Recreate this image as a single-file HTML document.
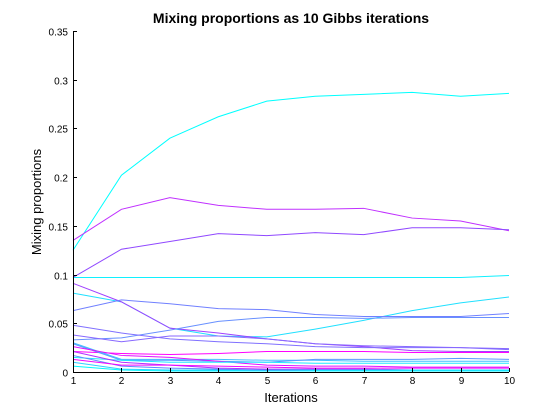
<!DOCTYPE html>
<html><head><meta charset="utf-8"><style>
body{margin:0;background:#fff;}
svg{display:block;font-family:"Liberation Sans",Arial,sans-serif;}
</style></head><body>
<svg id="chart" width="560" height="419">
<text x="291" y="23" text-anchor="middle" font-size="14" font-weight="bold">Mixing proportions as 10 Gibbs iterations</text>
<text x="291" y="402" text-anchor="middle" font-size="13">Iterations</text>
<text transform="translate(41,202) rotate(-90)" text-anchor="middle" font-size="13">Mixing proportions</text>
<g id="marks"></g>
<g id="axes"></g>
</svg>
<script>
const iterations=[1,2,3,4,5,6,7,8,9,10];
const yTicks=[0,0.05,0.1,0.15,0.2,0.25,0.3,0.35];
const yTickLabels=["0","0.05","0.1","0.15","0.2","0.25","0.3","0.35"];
const s1=[.125,.202,.240,.262,.278,.283,.285,.287,.283,.286];
const s2=[.135,.167,.179,.171,.167,.167,.168,.158,.155,.145];
const s3=[.097,.126,.134,.142,.140,.143,.141,.148,.148,.146];
const s4=[.097,.097,.097,.097,.097,.097,.097,.097,.097,.099];
const s5=[.081,.072,.045,.037,.036,.044,.053,.063,.071,.077];
const s6=[.091,.072,.045,.040,.034,.029,.026,.022,.021,.021];
const s7=[.063,.074,.070,.065,.064,.059,.057,.057,.057,.060];
const s8=[.033,.035,.043,.052,.056,.056,.055,.056,.056,.056];
const s9=[.048,.040,.034,.031,.029,.026,.025,.025,.025,.023];
const s10=[.038,.031,.037,.037,.034,.029,.027,.026,.025,.024];
const s11=[.021,.019,.018,.019,.021,.021,.021,.020,.020,.020];
const s12=[.030,.013,.013,.013,.012,.012,.011,.011,.011,.011];
const s13=[.029,.012,.012,.011,.010,.013,.013,.013,.014,.013];
const s14=[.026,.017,.015,.011,.007,.006,.006,.005,.005,.005];
const s15=[.015,.012,.010,.010,.010,.009,.009,.009,.009,.009];
const s16=[.021,.010,.007,.004,.003,.003,.003,.002,.002,.002];
const s17=[.010,.003,.002,.002,.002,.002,.002,.002,.002,.002];
const s18=[.017,.006,.004,.003,.002,.001,.001,.001,.001,.001];
const s19=[.013,.007,.007,.006,.005,.004,.004,.004,.004,.004];
const s20=[.006,.002,.001,.001,.001,.001,.001,.001,.001,.001];
const series=[s1,s2,s3,s4,s5,s6,s7,s8,s9,s10,s11,s12,s13,s14,s15,s16,s17,s18,s19,s20];
const colors=["#00ffff","#c030ff","#9048ff","#10f0ff","#20e0ff","#a040ff","#7080ff","#6890ff","#8070ff","#8868ff","#ff00ff","#40c0ff","#5898ff","#e010ff","#20e8ff","#b030ff","#30d0ff","#6088ff","#f008ff","#00f8ff"];
const X0=73,X1=509,Y0=372,Y1=31;
const xs=v=>X0+(v-1)/9*(X1-X0);
const ys=v=>Y0-v/0.35*(Y0-Y1);
const NS="http://www.w3.org/2000/svg";
const marks=document.getElementById('marks');
series.forEach((d,i)=>{
 const p=document.createElementNS(NS,'polyline');
 p.setAttribute('points',d.map((v,j)=>xs(iterations[j])+','+ys(v)).join(' '));
 p.setAttribute('fill','none');p.setAttribute('stroke',colors[i]);p.setAttribute('stroke-width','1');
 
 
 marks.appendChild(p);
});
const ax=document.getElementById('axes');
function line(x1,y1,x2,y2,name){const l=document.createElementNS(NS,'line');
 l.setAttribute('x1',x1);l.setAttribute('y1',y1);l.setAttribute('x2',x2);l.setAttribute('y2',y2);l.setAttribute('stroke','#000');
 
 
 ax.appendChild(l);}
function text(x,y,t,anchor,name){const e=document.createElementNS(NS,'text');
 e.setAttribute('x',x);e.setAttribute('y',y);e.setAttribute('font-size','10');e.setAttribute('text-anchor',anchor);e.textContent=t;
 
 
 ax.appendChild(e);}
line(X0+0.5,Y1,X0+0.5,Y0+0.5,'y-axis');
line(X0,Y0+0.5,X1,Y0+0.5,'x-axis');
yTicks.forEach((v,i)=>{const y=Math.round(ys(v))+0.5;line(X0,y,X0+4,y,'y-tick');text(X0-5,y+4,yTickLabels[i],'end','y-tick-label');});
iterations.forEach(v=>{const x=Math.round(xs(v))+0.5;line(x,Y0,x,Y0-4,'x-tick');text(x,Y0+12,String(v),'middle','x-tick-label');});
</script>
</body></html>
